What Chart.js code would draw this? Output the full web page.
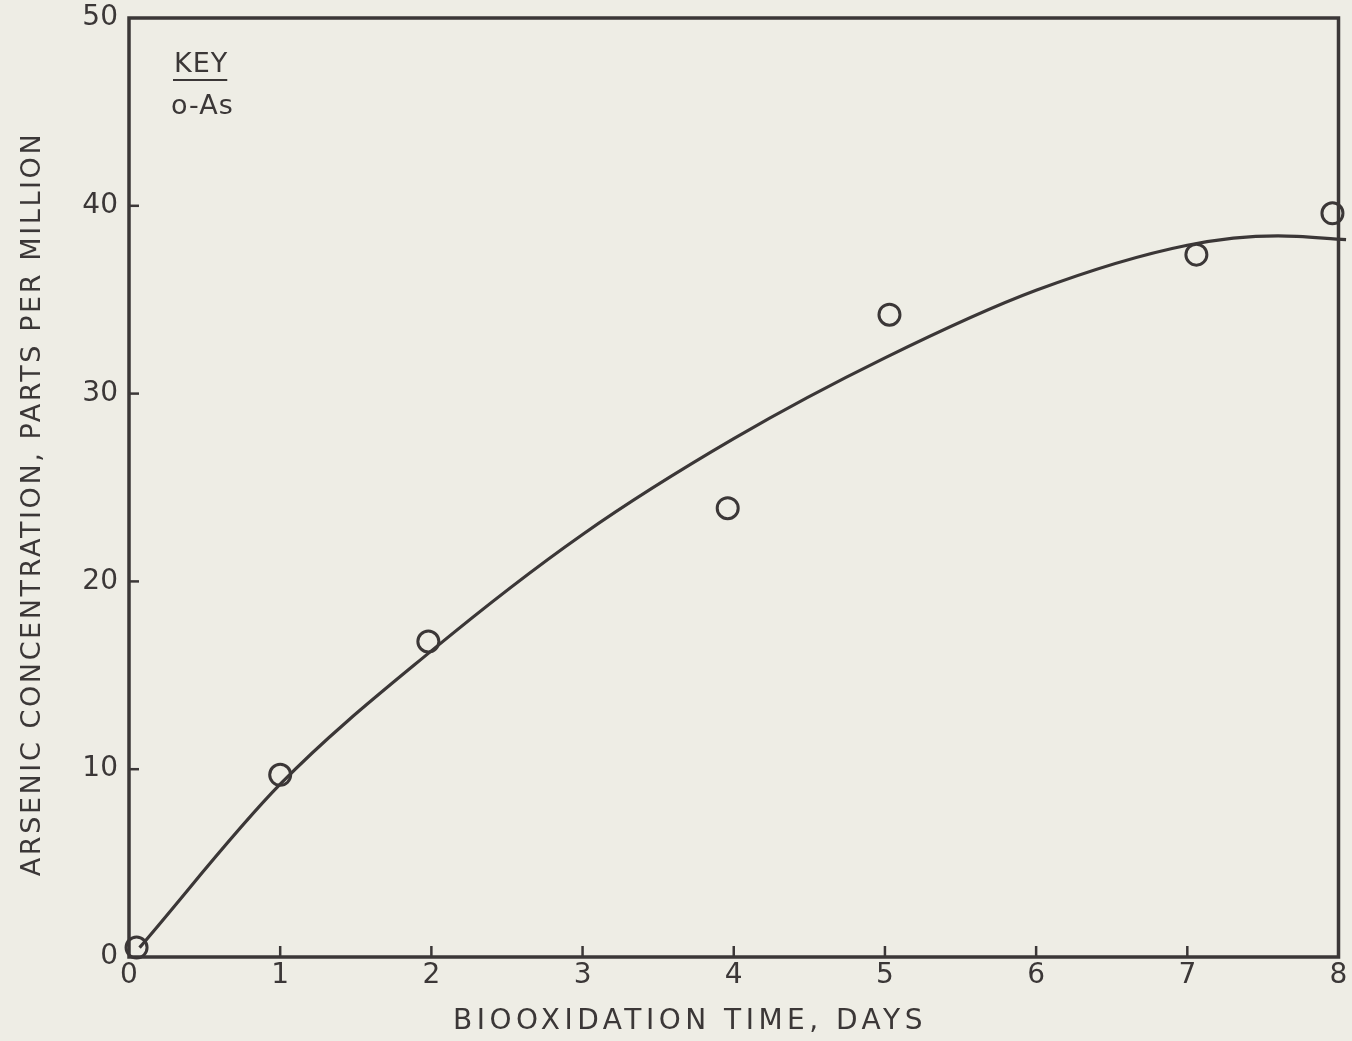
<!DOCTYPE html>
<html><head><meta charset="utf-8">
<title>Arsenic concentration vs biooxidation time</title>
<script src="https://cdn.jsdelivr.net/npm/chart.js"></script>
<style>
  html, body { margin: 0; padding: 0; background: #eeede5; }
  #wrap { width: 1352px; height: 1041px; }
</style></head>
<body>
<div id="wrap"><canvas id="grafico" width="1352" height="1041"></canvas></div>
<script>
// --- DADOS ---
const diasMedidos = [0.05, 1.0, 1.98, 3.96, 5.03, 7.06, 7.96];
const arsenicoMedido = [0.5, 9.7, 16.8, 23.9, 34.2, 37.4, 39.6];

// curva ajustada
const diasCurva = [0.07, 1, 2, 3, 4, 5, 6, 7, 7.6, 8.05];
const arsenicoCurva = [0.5, 9.2, 16.3, 22.5, 27.6, 31.9, 35.5, 37.9, 38.4, 38.2];

const xTicks = [0, 1, 2, 3, 4, 5, 6, 7, 8];
const yTicks = [0, 10, 20, 30, 40, 50];

const tituloX = 'BIOOXIDATION TIME, DAYS';
const tituloY = 'ARSENIC CONCENTRATION, PARTS PER MILLION';

const tinta = '#3b3737';
const fonte = "'DejaVu Sans', sans-serif";

// moldura, ticks para dentro, titulos e KEY
const moldura = {
  id: 'moldura',
  afterDraw(chart) {
    const { ctx, chartArea: a, scales: { x, y } } = chart;
    ctx.save();
    ctx.strokeStyle = tinta;
    ctx.lineWidth = 3.5;
    ctx.strokeRect(a.left, a.top, a.right - a.left, a.bottom - a.top);
    ctx.lineWidth = 2.5;
    xTicks.slice(1, -1).forEach(v => {
      const px = x.getPixelForValue(v);
      ctx.beginPath(); ctx.moveTo(px, a.bottom); ctx.lineTo(px, a.bottom - 11); ctx.stroke();
    });
    yTicks.slice(1, -1).forEach(v => {
      const py = y.getPixelForValue(v);
      ctx.beginPath(); ctx.moveTo(a.left, py); ctx.lineTo(a.left + 10, py); ctx.stroke();
    });

    ctx.fillStyle = tinta;
    ctx.textAlign = 'center';
    ctx.textBaseline = 'middle';
    ctx.font = '28px ' + fonte;
    ctx.letterSpacing = '4.5px';
    ctx.fillText(tituloX, 690, 1022);
    ctx.save();
    ctx.translate(33, 505);
    ctx.rotate(-Math.PI / 2);
    ctx.font = '27px ' + fonte;
    ctx.letterSpacing = '2.6px';
    ctx.fillText(tituloY, 1, 0);
    ctx.restore();

    ctx.letterSpacing = '1px';
    ctx.font = '27px ' + fonte;
    ctx.textAlign = 'left';
    ctx.textBaseline = 'alphabetic';
    ctx.fillText('KEY', 174, 72);
    const w = ctx.measureText('KEY').width;
    ctx.lineWidth = 2;
    ctx.beginPath(); ctx.moveTo(173, 80); ctx.lineTo(173 + w, 80); ctx.stroke();
    ctx.fillText('o-As', 171, 114);
    ctx.restore();
  }
};

const ctx = document.getElementById('grafico').getContext('2d');
new Chart(ctx, {
  type: 'scatter',
  data: {
    datasets: [
      {
        label: 'Curva',
        data: diasCurva.map((d, i) => ({ x: d, y: arsenicoCurva[i] })),
        showLine: true,
        borderColor: tinta,
        borderWidth: 3.2,
        pointRadius: 0,
        cubicInterpolationMode: 'monotone',
        clip: false
      },
      {
        label: 'o-As',
        data: diasMedidos.map((d, i) => ({ x: d, y: arsenicoMedido[i] })),
        showLine: false,
        borderColor: tinta,
        borderWidth: 3,
        backgroundColor: 'rgba(0,0,0,0)',
        pointRadius: 10.5,
        clip: false
      }
    ]
  },
  options: {
    responsive: false,
    animation: false,
    layout: { padding: { left: 0, right: 9, top: 18, bottom: 0 } },
    plugins: { legend: { display: false }, tooltip: { enabled: false } },
    scales: {
      x: {
        type: 'linear', min: 0, max: 8,
        afterBuildTicks: s => { s.ticks = xTicks.map(v => ({ value: v })); },
        afterFit: s => { s.height = 84; s.paddingLeft = 0; s.paddingRight = 0; },
        grid: { display: false, drawTicks: false },
        border: { display: false },
        ticks: { color: tinta, font: { family: fonte, size: 28 }, padding: 2 }
      },
      y: {
        type: 'linear', min: 0, max: 50,
        afterBuildTicks: s => { s.ticks = yTicks.map(v => ({ value: v })); },
        afterFit: s => { s.width = 129; s.paddingTop = 0; s.paddingBottom = 0; },
        grid: { display: false, drawTicks: false },
        border: { display: false },
        ticks: { color: tinta, font: { family: fonte, size: 28 }, padding: 11 }
      }
    }
  },
  plugins: [moldura]
});
</script>
</body></html>
